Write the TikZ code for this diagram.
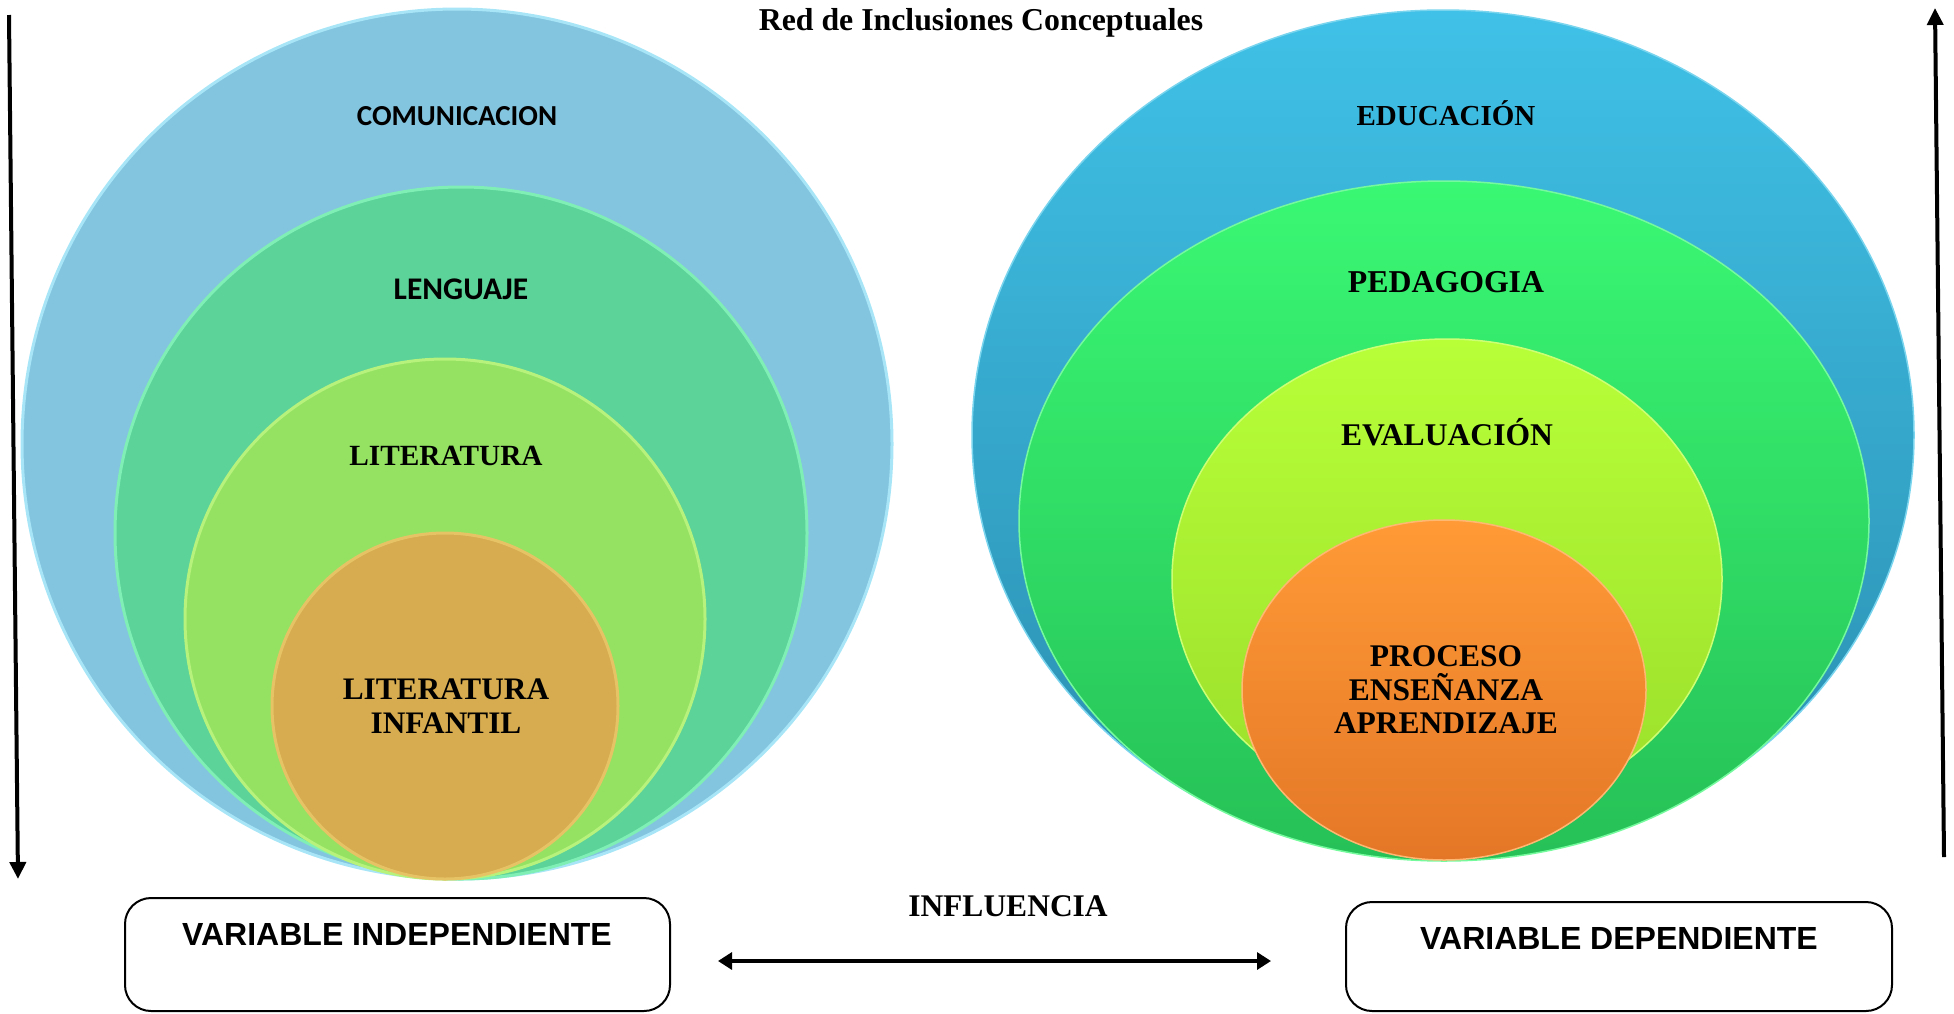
\documentclass[tikz,border=0pt]{standalone}
\usepackage{fontspec}
\setmainfont{Liberation Serif}
\newfontfamily\calibf{Carlito}
\newfontfamily\arialf{Liberation Sans}
\usetikzlibrary{arrows.meta}
\definecolor{lblue}{HTML}{83C4DF}
\definecolor{lblueE}{HTML}{A8E6F7}
\definecolor{lgreen}{HTML}{5BD399}
\definecolor{lgreenE}{HTML}{80EFB6}
\definecolor{llime}{HTML}{95E262}
\definecolor{llimeE}{HTML}{B6F27C}
\definecolor{lorange}{HTML}{D7AB50}
\definecolor{lorangeE}{HTML}{E6C466}
\definecolor{rblueT}{HTML}{40C1E7}
\definecolor{rblueB}{HTML}{2A8DAE}
\definecolor{rgreenT}{HTML}{3AF873}
\definecolor{rgreenB}{HTML}{26C057}
\definecolor{rlimeT}{HTML}{B8FF38}
\definecolor{rlimeB}{HTML}{9ADE2B}
\definecolor{rorangeT}{HTML}{FF9A36}
\definecolor{rorangeB}{HTML}{E47727}
\begin{document}
\begin{tikzpicture}[x=1pt,y=-1pt,
  lcirc/.style 2 args={fill=#1,draw=#2,line width=3pt},
  rell/.style 2 args={top color=#1,bottom color=#2,draw=#1!70!white,line width=1.5pt},
  sertext/.style={font=\bfseries\fontsize{#1}{#1}\selectfont,inner sep=0pt,anchor=base},
  sanstext/.style={font=\calibf\bfseries\fontsize{#1}{#1}\selectfont,inner sep=0pt,anchor=base},
  multitext/.style={font=\bfseries\fontsize{31.5}{33.5}\selectfont,inner sep=0pt,align=center},
  varbox/.style={draw=black,line width=2pt,rounded corners=26pt},
  vartext/.style={font=\arialf\bfseries\fontsize{32}{32}\selectfont,inner sep=0pt,anchor=base},
  vertarrow/.style={line width=4pt,-{Triangle[width=16pt,length=17pt]}},
  bothways/.style={line width=3.2pt,{Triangle[width=17pt,length=14pt]}-{Triangle[width=17pt,length=14pt]}}]
\useasboundingbox (0,0) rectangle (1954,1013);

% title
\node[sertext=31.8] (title) at (981,30) {Red de Inclusiones Conceptuales};

% left nested circles
\path[lcirc={lblue}{lblueE}] (457,444) ellipse [x radius=435pt, y radius=435pt];
\path[lcirc={lgreen}{lgreenE}] (461,533) ellipse [x radius=346pt, y radius=346pt];
\path[lcirc={llime}{llimeE}] (445,619) ellipse [x radius=260pt, y radius=260pt];
\path[lcirc={lorange}{lorangeE}] (445,706) ellipse [x radius=173pt, y radius=173pt];

\node[sanstext=29] (comunic) at (457,125) {COMUNICACION};
\node[sanstext=31.5] (lenguaje) at (461,299) {LENGUAJE};
\node[sertext=29.3] (literat) at (446,465) {LITERATURA};
\node[multitext,font=\bfseries\fontsize{31.3}{34}\selectfont] (litinf) at (446,706) {LITERATURA\\INFANTIL};

% right nested ellipses
\path[rell={rblueT}{rblueB}] (1443,435) ellipse [x radius=471pt, y radius=425pt];
\path[rell={rgreenT}{rgreenB}] (1444,521) ellipse [x radius=425pt, y radius=340pt];
\path[rell={rlimeT}{rlimeB}] (1447,579) ellipse [x radius=275pt, y radius=240pt];
\path[rell={rorangeT}{rorangeB}] (1444,690) ellipse [x radius=202pt, y radius=170pt];

\node[sertext=29] (educ) at (1446,125) {EDUCACIÓN};
\node[sertext=31.8] (pedag) at (1446,292) {PEDAGOGIA};
\node[sertext=31.6] (evalu) at (1447,445) {EVALUACIÓN};
\node[multitext] (proceso) at (1446,690) {PROCESO\\ENSEÑANZA\\APRENDIZAJE};

% side arrows
\coordinate (la1) at (9,15);
\coordinate (la2) at (18,879);
\draw[vertarrow] (la1) -- (la2);
\coordinate (ra1) at (1944,857);
\coordinate (ra2) at (1935,8);
\draw[vertarrow] (ra1) -- (ra2);

% bottom boxes
\draw[varbox] (125,898) rectangle (670,1011);
\node[vartext] (vi) at (397,945) {VARIABLE INDEPENDIENTE};
\draw[varbox] (1346,902) rectangle (1892,1011);
\node[vartext] (vd) at (1619,949) {VARIABLE DEPENDIENTE};

\node[sertext=31.5] (infl) at (1008,916) {INFLUENCIA};
\coordinate (da1) at (718,961);
\coordinate (da2) at (1271,961);
\draw[bothways] (da1) -- (da2);
\end{tikzpicture}
\end{document}
